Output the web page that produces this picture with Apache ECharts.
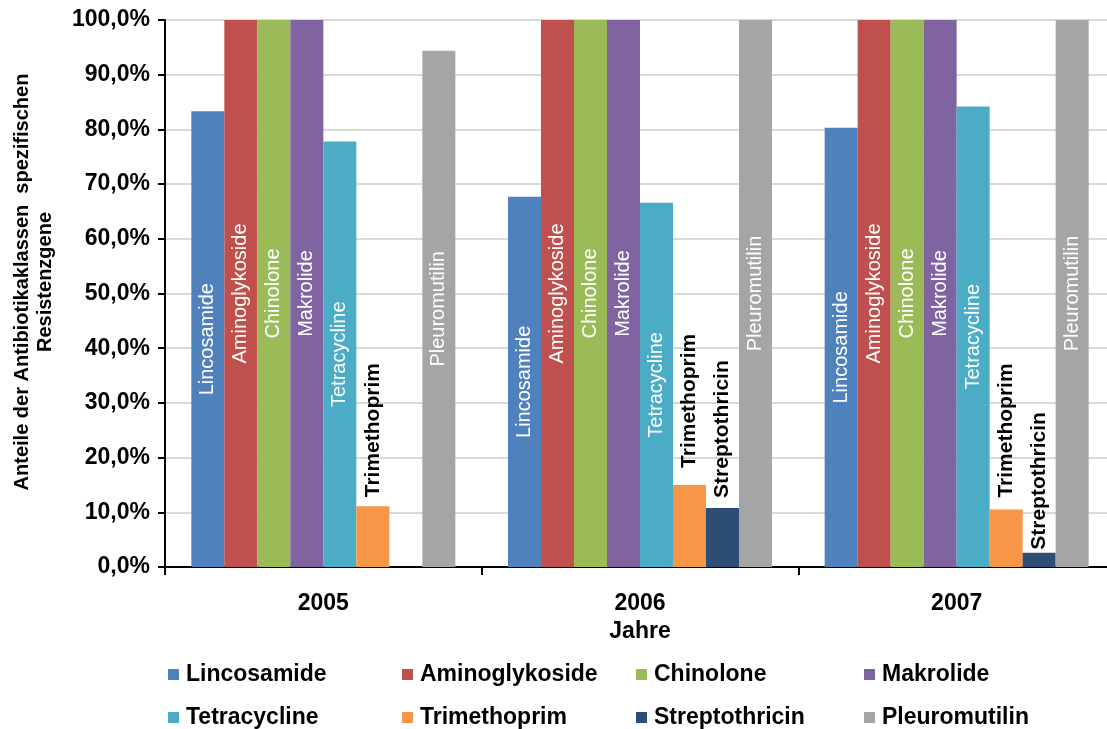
<!DOCTYPE html>
<html>
<head>
<meta charset="utf-8">
<script src="https://cdn.jsdelivr.net/npm/echarts@6/dist/echarts.min.js"></script>
<style>
  html, body { margin: 0; padding: 0; background: #fff; overflow: hidden; }
  #chart { width: 1115px; height: 729px; }
</style>
</head>
<body>
<div id="chart"></div>
<script>
// Years on the category axis
const years = ['2005', '2006', '2007'];

// Share of class-specific resistance genes per antibiotic class (%)
const lincosamide    = [83.3, 67.7, 80.3];
const aminoglykoside = [100, 100, 100];
const chinolone      = [100, 100, 100];
const makrolide      = [100, 100, 100];
const tetracycline   = [77.8, 66.6, 84.2];
const trimethoprim   = [11.1, 15.0, 10.5];
const streptothricin = [null, 10.8, 2.6];
const pleuromutilin  = [94.4, 100, 100];

// Y axis ticks
const yMin = 0, yMax = 100, yStep = 10;

// Gap (px) between short bars and their names written above them
const trimethoprimLabelGap   = [9, 17, 12];
const streptothricinLabelGap = [0, 10, 3];

const FONT = "'Liberation Sans', Arial, sans-serif";

const seriesDefs = [
  { name: 'Lincosamide',    data: lincosamide,    color: '#4F81BD' },
  { name: 'Aminoglykoside', data: aminoglykoside, color: '#C0504D' },
  { name: 'Chinolone',      data: chinolone,      color: '#9BBB59' },
  { name: 'Makrolide',      data: makrolide,      color: '#8064A2' },
  { name: 'Tetracycline',   data: tetracycline,   color: '#4BACC6' },
  { name: 'Trimethoprim',   data: trimethoprim,   color: '#F79646', gaps: trimethoprimLabelGap },
  { name: 'Streptothricin', data: streptothricin, color: '#2C4D75', gaps: streptothricinLabelGap },
  { name: 'Pleuromutilin',  data: pleuromutilin,  color: '#A5A5A5' }
];

const insideLabel = {
  show: true, position: 'inside', rotate: 90,
  color: '#ffffff', fontSize: 20, fontFamily: FONT,
  formatter: p => p.seriesName
};
const topLabel = {
  show: true, position: 'top', rotate: 90, align: 'left', verticalAlign: 'middle',
  color: '#000000', fontSize: 21, fontWeight: 'bold', fontFamily: FONT,
  formatter: p => p.seriesName
};

const series = seriesDefs.map(s => ({
  name: s.name,
  type: 'bar',
  data: s.gaps
    ? s.data.map((v, i) => (v == null ? null : { value: v, label: { distance: s.gaps[i] } }))
    : s.data,
  barWidth: 33,
  barGap: '0%',
  itemStyle: { color: s.color },
  label: s.gaps ? topLabel : insideLabel,
  emphasis: { disabled: true },
  animation: false
}));

// Legend laid out as four columns of two rows
const legendCols = [
  { left: 168, items: ['Lincosamide', 'Tetracycline'] },
  { left: 402, items: ['Aminoglykoside', 'Trimethoprim'] },
  { left: 636, items: ['Chinolone', 'Streptothricin'] },
  { left: 864, items: ['Makrolide', 'Pleuromutilin'] }
];
const legends = legendCols.map(c => ({
  orient: 'vertical',
  left: c.left,
  top: 663,
  height: 66,
  data: c.items,
  icon: 'rect',
  itemWidth: 11,
  itemHeight: 11,
  itemGap: 20,
  selectedMode: false,
  padding: 0,
  textStyle: { fontSize: 23, fontWeight: 'bold', color: '#000', fontFamily: FONT, lineHeight: 23, padding: [0, 0, 0, 2] }
}));

const chart = echarts.init(document.getElementById('chart'), null, { renderer: 'canvas' });
chart.setOption({
  backgroundColor: '#ffffff',
  animation: false,
  grid: { left: 165, top: 20, bottom: 162, right: 0, containLabel: false },
  legend: legends,
  xAxis: {
    type: 'category',
    data: years,
    name: 'Jahre',
    nameLocation: 'middle',
    nameGap: 49,
    nameTextStyle: { fontSize: 23, fontWeight: 'bold', color: '#000', fontFamily: FONT },
    axisLine: { lineStyle: { color: '#000', width: 2 } },
    axisTick: { show: true, length: 8, lineStyle: { color: '#000', width: 2 } },
    axisLabel: { margin: 25, fontSize: 23, fontWeight: 'bold', color: '#000', fontFamily: FONT },
    splitLine: { show: false }
  },
  yAxis: {
    type: 'value',
    min: yMin, max: yMax, interval: yStep,
    axisLine: { show: true, lineStyle: { color: '#000', width: 2 } },
    axisTick: { show: true, length: 7, lineStyle: { color: '#000', width: 2 } },
    axisLabel: {
      margin: 15, fontSize: 23, fontWeight: 'bold', color: '#000', fontFamily: FONT,
      formatter: v => v.toFixed(1).replace('.', ',') + '%'
    },
    splitLine: { show: true, lineStyle: { color: '#D9D9D9', width: 2 } }
  },
  graphic: [{
    type: 'text',
    x: 34, y: 282,
    rotation: Math.PI / 2,
    style: {
      text: 'Anteile der Antibiotikaklassen  spezifischen\nResistenzgene',
      x: 0, y: 0,
      textAlign: 'center',
      textVerticalAlign: 'middle',
      fontSize: 20, fontWeight: 'bold', fill: '#000', fontFamily: FONT,
      lineHeight: 23
    }
  }],
  series: series
});
</script>
</body>
</html>
